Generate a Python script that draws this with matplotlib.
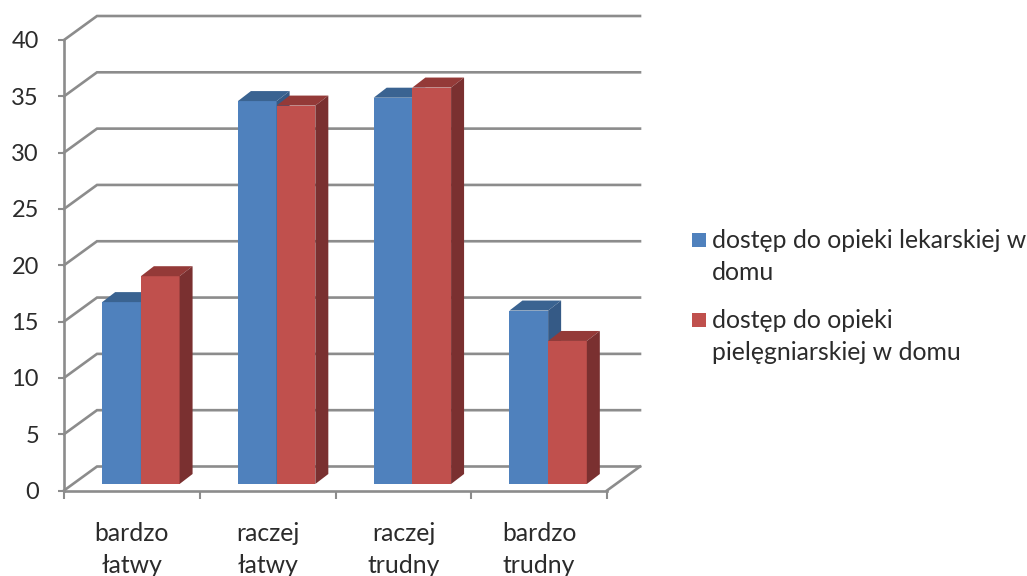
import numpy as np
import matplotlib
matplotlib.use("Agg")
import matplotlib.pyplot as plt
from matplotlib.patches import Polygon, Rectangle

categories = ["bardzo\nłatwy", "raczej\nłatwy", "raczej\ntrudny", "bardzo\ntrudny"]
lekarz = [16.15, 34.0, 34.3, 15.4]
pielegniarka = [18.45, 33.6, 35.2, 12.7]
yticks = [0, 5, 10, 15, 20, 25, 30, 35, 40]
legendLabels = ["dostęp do opieki lekarskiej w\ndomu", "dostęp do opieki\npielęgniarskiej w domu"]

# Face, top and side colours of the two series
blues = ["#4F81BD", "#3A6391", "#355A86"]
reds = ["#C0504D", "#943A38", "#7A3030"]
gridColor = "#8C8C8C"
textColor = "#2B2B2B"

W, H = 1027, 576
plt.rcParams["font.family"] = ["Lato", "DejaVu Sans"]

fig = plt.figure(figsize=(W/100, H/100), dpi=100)
ax = fig.add_axes([64/W, (H-490.5)/H, 543/W, 450.5/H])
ax.set_xlim(0, 4)
ax.set_ylim(0, 40)
ax.patch.set_visible(False)

# Oblique offsets of the back wall, in data units
pxX = 543/4
pxY = 450.5/40
wallX = 33/pxX
wallY = 24/pxY

# Wall lines: diagonal on the side wall, then horizontal along the back
for v in yticks:
    ax.plot([0, wallX, 4+wallX], [v, v+wallY, v+wallY], color=gridColor, lw=1.9,
            clip_on=False, zorder=1, solid_joinstyle="miter")
ax.plot([4, 4+wallX], [0, wallY], color=gridColor, lw=1.9, clip_on=False, zorder=1)

# 3D bars
barW = 38.7/pxX
barShift = 9/pxX
lift = 6.5/pxY
depthX = 13/pxX
depthY = 10/pxY


def drawBar(x, val, cols, z):
    ax.bar(x, val, barW, bottom=lift, align="edge", color=cols[0], zorder=z, clip_on=False)
    top = lift + val
    ax.add_patch(Polygon([(x, top), (x+barW, top), (x+barW+depthX, top+depthY), (x+depthX, top+depthY)],
                         closed=True, color=cols[1], lw=0, zorder=z, clip_on=False))
    ax.add_patch(Polygon([(x+barW, lift), (x+barW+depthX, lift+depthY), (x+barW+depthX, top+depthY), (x+barW, top)],
                         closed=True, color=cols[2], lw=0, zorder=z, clip_on=False))


for i in range(len(categories)):
    center = i + 0.5 + barShift
    drawBar(center-barW, lekarz[i], blues, 2+i)
    drawBar(center, pielegniarka[i], reds, 2.5+i)

# Axes
for side in ["top", "right"]:
    ax.spines[side].set_visible(False)
for side in ["left", "bottom"]:
    ax.spines[side].set_color(gridColor)
    ax.spines[side].set_linewidth(1.9)
ax.set_yticks(yticks)
ax.set_xticks(np.arange(5))
ax.set_xticks(np.arange(4)+0.5, labels=categories, minor=True)
ax.set_xticklabels([])
ax.tick_params(axis="y", length=4.5, width=1.5, color=gridColor, labelsize=17,
               labelcolor=textColor, pad=13.5)
ax.tick_params(axis="x", which="major", length=5.5, width=1.5, color=gridColor)
ax.tick_params(axis="x", which="minor", length=0, labelsize=17.8, labelcolor=textColor, pad=23)
for lab in ax.get_xticklabels(minor=True):
    lab.set_linespacing(1.45)

# Legend keys sit next to the first line of each wrapped label
legendY = [240, 320]
for label, col, y in zip(legendLabels, [blues[0], reds[0]], legendY):
    fig.add_artist(Rectangle((692/W, (H-y-7)/H), 14/W, 14/H, transform=fig.transFigure,
                             color=col, lw=0))
    fig.text(712/W, (H-y+10.5)/H, label, fontsize=17.8, color=textColor, ha="left", va="top",
             linespacing=1.45, transform=fig.transFigure)

fig.savefig("out.png", dpi=100)
